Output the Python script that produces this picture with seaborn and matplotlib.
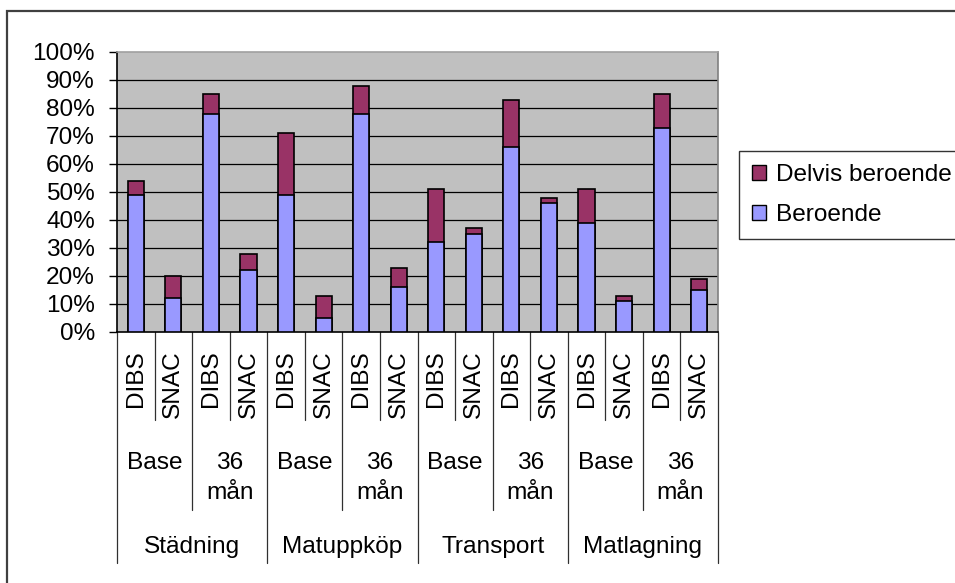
import matplotlib
matplotlib.use("Agg")
import matplotlib.pyplot as plt
from matplotlib.patches import Patch, Rectangle
from matplotlib.ticker import FuncFormatter, MultipleLocator
import matplotlib.transforms as mtrans
import pandas as pd
import seaborn as sns

# Categories (three nested levels on the x axis)
activities = ["Städning", "Matuppköp", "Transport", "Matlagning"]
timepoints = ["Base", "36\nmån"]
studies = ["DIBS", "SNAC"]

# Share of persons (%) per bar, in x order
beroende = [49, 12, 78, 22, 49, 5, 78, 16, 32, 35, 66, 46, 39, 11, 73, 15]
delvis = [5, 8, 7, 6, 22, 8, 10, 7, 19, 2, 17, 2, 12, 2, 12, 4]

yticks = [0, 10, 20, 30, 40, 50, 60, 70, 80, 90, 100]

rows = []
i = 0
for act in activities:
    for tp in timepoints:
        for st in studies:
            rows.append({"key": f"{act}|{tp}|{st}", "act": act, "tp": tp, "st": st,
                         "Beroende": beroende[i], "Delvis beroende": delvis[i]})
            i += 1
df = pd.DataFrame(rows)
df["total"] = df["Beroende"] + df["Delvis beroende"]
order = list(df["key"])

BLUE = "#9999FF"
MAROON = "#993366"
FS = 17.6

sns.set_style("white")
plt.rcParams["font.family"] = ["Liberation Sans", "DejaVu Sans"]
plt.rcParams["text.color"] = "black"
plt.rcParams["ytick.labelcolor"] = "black"

W, H = 955, 583
fig = plt.figure(figsize=(W / 100, H / 100), dpi=100)
L, R, T, B = 117, 718, 52, 332
ax = fig.add_axes([L / W, 1 - B / H, (R - L) / W, (B - T) / H])
ax.set_facecolor("#C0C0C0")

# gridlines behind the bars
for v in yticks[1:-1]:
    ax.axhline(v, color="black", lw=0.9, zorder=0)

common = dict(x="key", order=order, width=0.43, edgecolor="black",
              linewidth=1.2, saturation=1, ax=ax, zorder=3)
sns.barplot(data=df, y="total", color=MAROON, **common)
sns.barplot(data=df, y="Beroende", color=BLUE, **common)

ax.set_xlim(-0.5, len(order) - 0.5)
ax.set_ylim(0, 100)
ax.yaxis.set_major_locator(MultipleLocator(10))
ax.yaxis.set_major_formatter(FuncFormatter(lambda v, p: f"{v:.0f}%"))
ax.tick_params(axis="y", left=True, length=6, width=1, color="black",
               labelsize=FS, labelcolor="black", pad=10)
ax.set_xticks([])
ax.set_xlabel("")
ax.set_ylabel("")

for s in ("left", "bottom"):
    ax.spines[s].set_color("black")
    ax.spines[s].set_linewidth(1.2)
ax.spines["top"].set_color("#A0A0A0")
ax.spines["right"].set_color("#808080")
ax.spines["top"].set_linewidth(1.2)
ax.spines["right"].set_linewidth(1.2)

# multi-level category axis
tr = mtrans.blended_transform_factory(ax.transData, ax.transAxes)
hpx = B - T


def ay(py):
    return -(py - B) / hpx


n = len(order)
for k in range(n + 1):
    if k % 4 == 0:
        end = 563
    elif k % 2 == 0:
        end = 510
    else:
        end = 420
    ax.plot([k - 0.5, k - 0.5], [0, ay(end)], transform=tr, color="#303030",
            lw=0.9, clip_on=False)

for k, r in df.iterrows():
    ax.text(k, ay(350), r["st"], transform=tr, rotation=90, ha="center",
            va="top", fontsize=FS, color="black")
for j in range(n // 2):
    ax.text(2 * j + 0.5, ay(452), timepoints[j % 2], transform=tr, ha="center",
            va="top", fontsize=FS, linespacing=1.45, color="black")
for j, act in enumerate(activities):
    ax.text(4 * j + 1.5, ay(547), act, transform=tr, ha="center",
            va="center", fontsize=FS, color="black")

# legend
handles = [Patch(facecolor=MAROON, edgecolor="black", lw=1.0, label="Delvis beroende"),
           Patch(facecolor=BLUE, edgecolor="black", lw=1.0, label="Beroende")]
leg = fig.legend(handles=handles, loc="upper left",
                 bbox_to_anchor=(739 / W, 1 - 151 / H), bbox_transform=fig.transFigure,
                 fontsize=FS, frameon=True, fancybox=False, borderpad=0.55,
                 handlelength=0.55, handleheight=0.55, handletextpad=0.4,
                 labelspacing=0.72, borderaxespad=0)
leg.get_frame().set_edgecolor("black")
leg.get_frame().set_linewidth(1.0)
for t in leg.get_texts():
    t.set_color("black")

# outer chart border
fig.add_artist(Rectangle((7 / W, -0.2), 1.2, 1 - 11 / H + 0.2, transform=fig.transFigure,
                         fill=False, edgecolor="#404040", lw=1.6))

fig.savefig("out.png", dpi=100)
